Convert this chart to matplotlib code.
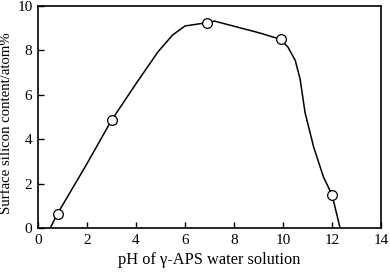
import matplotlib.pyplot as plt

plt.rcParams['font.family'] = 'Liberation Serif'

# measured points
ph = [0.8, 3.0, 6.9, 9.9, 12.0]
si = [0.65, 4.85, 9.25, 8.5, 1.5]

# hand-drawn guide curve
curve_x = [0.5, 0.8, 2.0, 3.0, 4.0, 4.9, 5.5, 6.0, 6.9, 7.2, 9.0, 9.9, 10.2, 10.5, 10.7, 10.9, 11.25, 11.65, 12.0, 12.33]
curve_y = [0.0, 0.65, 2.9, 4.85, 6.5, 7.94, 8.7, 9.1, 9.25, 9.32, 8.8, 8.5, 8.15, 7.55, 6.7, 5.2, 3.65, 2.3, 1.5, 0.0]

fig = plt.figure(figsize=(3.9, 2.72), dpi=100)
ax = fig.add_axes([38 / 390, 1 - 228 / 272, 343 / 390, 222 / 272])

ax.plot(curve_x, curve_y, color='black', lw=1.1)
ax.plot(ph, si, 'o', ms=7, mfc='white', mec='black', mew=0.9)

ax.set_xlim(0, 14)
ax.set_ylim(0, 10)
ax.set_xticks(range(0, 15, 2))
ax.set_yticks(range(0, 11, 2))
ax.tick_params(direction='in', length=4, labelsize=11, width=1, pad=4)
for s in ax.spines.values():
    s.set_linewidth(1.2)

ax.set_xlabel('pH of γ-APS water solution', fontsize=11.8)
ax.set_ylabel('Surface silicon content/atom%', fontsize=10.6)
ax.yaxis.set_label_coords(-0.072, 0.47)

fig.savefig('out.png', dpi=100)
